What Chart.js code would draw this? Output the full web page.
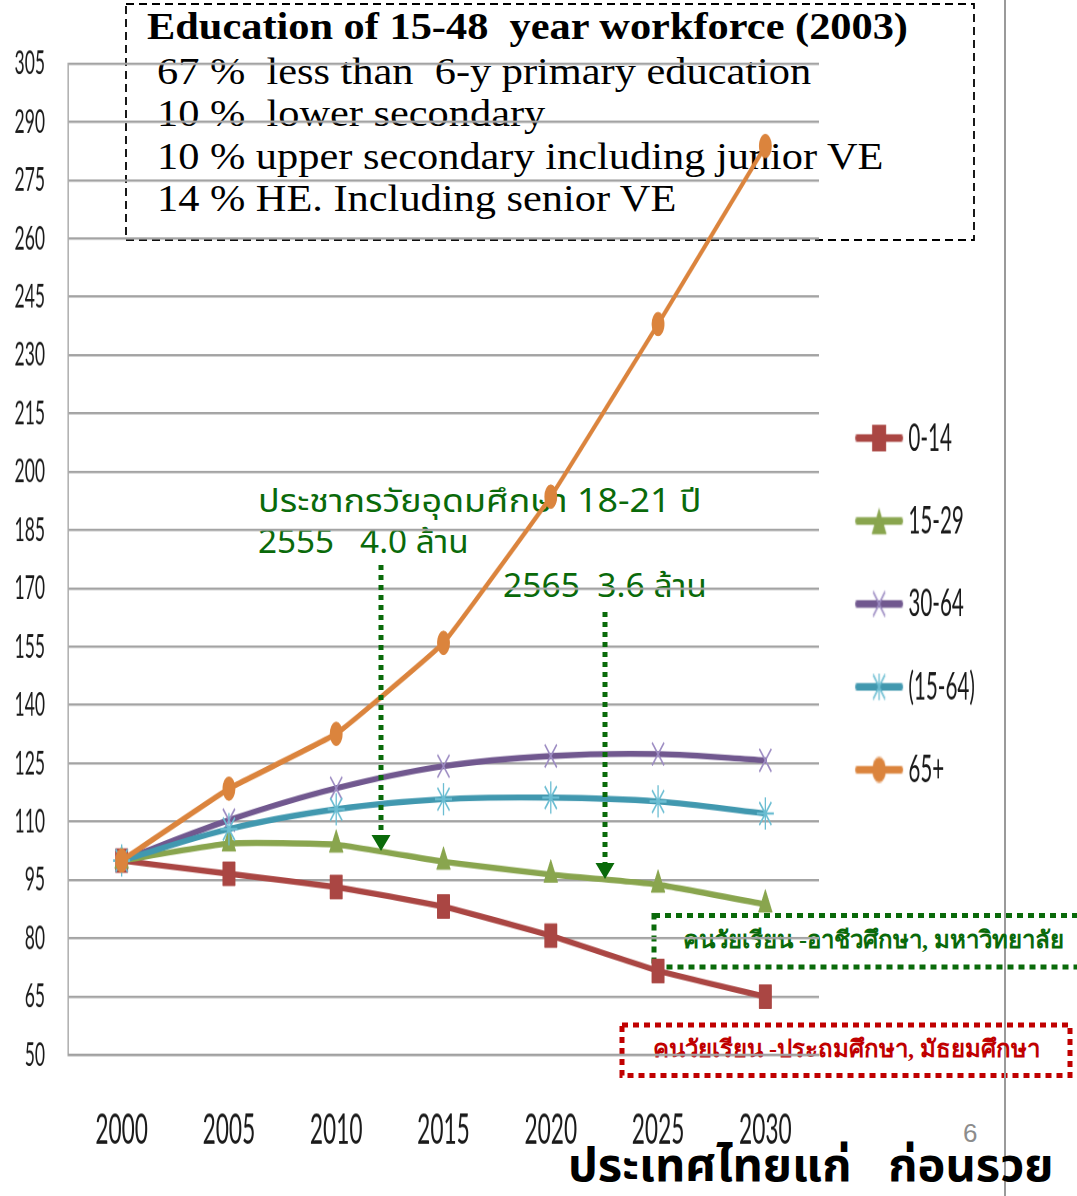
<!DOCTYPE html>
<html>
<head>
<meta charset="utf-8">
<script src="https://cdn.jsdelivr.net/npm/chart.js@4.4.0/dist/chart.umd.min.js"></script>
<style>
html,body{margin:0;padding:0;background:#fff;width:1077px;height:1196px;overflow:hidden;}
#stage{position:relative;width:1077px;height:1196px;}
#chartWrap{position:absolute;left:0;top:0;width:1077px;height:630px;transform:scaleY(1.8984127);transform-origin:0 0;z-index:2;}
.t{position:absolute;white-space:pre;z-index:1;}
.box{font-family:"Liberation Serif","Times New Roman",serif;font-size:38px;line-height:38px;color:#000;transform:scaleX(1.115);transform-origin:0 0;}
.gr{font-family:Tahoma,"Noto Sans Thai",Loma,Garuda,"Liberation Sans",sans-serif;font-size:32px;line-height:32px;color:#0a6a0a;transform-origin:0 0;}
.lbl{font-family:"Liberation Serif",serif;font-weight:bold;font-size:24px;line-height:24px;}
svg{position:absolute;left:0;top:0;}
</style>
</head>
<body>
<div id="stage">
  <svg width="1077" height="1196" style="z-index:1">
    <rect x="126" y="4" width="848" height="236" fill="none" stroke="#000" stroke-width="1.8" stroke-dasharray="8 5"/>
    <rect x="654" y="915.5" width="440" height="51.5" fill="none" stroke="#0a6a0a" stroke-width="5" stroke-dasharray="6 5"/>
    <rect x="622" y="1025" width="448" height="50.5" fill="none" stroke="#c00000" stroke-width="5" stroke-dasharray="6 5"/>
    <line x1="1005" y1="0" x2="1005" y2="1196" stroke="#9a9a9a" stroke-width="2"/>
  </svg>

  <div class="t box" style="left:147px;top:7px;font-weight:bold;">Education of 15-48  year workforce (2003)</div>
  <div class="t box" style="left:157px;top:52px;">67 %  less than  6-y primary education</div>
  <div class="t box" style="left:157px;top:94px;">10 %  lower secondary</div>
  <div class="t box" style="left:157px;top:137px;">10 % upper secondary including junior VE</div>
  <div class="t box" style="left:157px;top:179px;">14 % HE. Including senior VE</div>

  <div class="t gr" style="left:258px;top:486px;transform:scaleX(1.12);">ประชากรวัยอุดมศึกษา 18-21 ปี</div>
  <div class="t gr" style="left:258px;top:527px;transform:scaleX(1.04);">2555   4.0 ล้าน</div>
  <div class="t gr" style="left:503px;top:571px;transform:scaleX(1.05);">2565  3.6 ล้าน</div>

  <div class="t lbl" style="left:683px;top:928px;color:#0a6a0a;">คนวัยเรียน -อาชีวศึกษา, มหาวิทยาลัย</div>
  <div class="t lbl" style="left:653px;top:1037px;color:#c00000;">คนวัยเรียน -ประถมศึกษา, มัธยมศึกษา</div>

  <div class="t" style="left:963px;top:1120px;font-family:'Liberation Sans',sans-serif;font-size:26px;line-height:26px;color:#8c8c8c;">6</div>
  <div class="t" style="left:568px;top:1143px;font-family:Tahoma,'Noto Sans Thai',Loma,Garuda,'Liberation Sans',sans-serif;font-weight:bold;font-size:47px;line-height:47px;color:#000;">ประเทศไทยแก่   ก่อนรวย</div>

  <div id="chartWrap"><canvas id="c" width="1077" height="630"></canvas></div>

  <svg width="1077" height="1196" style="z-index:3">
    <line x1="381" y1="565" x2="381" y2="836" stroke="#0a6a0a" stroke-width="5" stroke-dasharray="5 5"/>
    <polygon points="371.5,835 390.5,835 381,851" fill="#0a6a0a"/>
    <line x1="605" y1="612" x2="605" y2="864" stroke="#0a6a0a" stroke-width="5" stroke-dasharray="5 5"/>
    <polygon points="595.5,863 614.5,863 605,879" fill="#0a6a0a"/>
  </svg>
</div>

<script>
// ---- data ----
const years = ['2000', '2005', '2010', '2015', '2020', '2025', '2030'];
const age0_14   = [100, 96.6, 93.2, 88.2, 80.7, 71.6, 65.0];
const age15_29  = [100, 104.4, 104.1, 99.7, 96.4, 93.8, 88.7];
const age30_64  = [100, 110.4, 118.6, 124.3, 126.9, 127.4, 125.8];
const age15_64  = [100, 108.1, 113.2, 115.8, 116.2, 115.2, 112.1];
const age65plus = [100, 118.5, 132.6, 156.0, 193.6, 238.0, 283.8];
const seriesNames = ['0-14', '15-29', '30-64', '(15-64)', '65+'];
const yMin = 50, yMax = 305, yStep = 15;

// ---- styles ----
const colors = ['#AA4643', '#89A54E', '#71588F', '#4198AF', '#DB843D'];
const markerColors = ['#AA4643', '#89A54E', '#9c8bc2', '#6bbdd2', '#DB843D'];

function legendIcon(i) {
  const c = document.createElement('canvas');
  c.width = 50; c.height = 16;
  const g = c.getContext('2d');
  g.strokeStyle = colors[i]; g.lineWidth = 4; g.lineCap = 'round';
  g.beginPath(); g.moveTo(3, 8); g.lineTo(47, 8); g.stroke();
  g.fillStyle = markerColors[i]; g.strokeStyle = markerColors[i];
  if (i === 0) { g.fillRect(18, 1, 14, 14); }
  else if (i === 1) { g.beginPath(); g.moveTo(25, 1); g.lineTo(32.5, 15); g.lineTo(17.5, 15); g.closePath(); g.fill(); }
  else if (i === 4) { g.beginPath(); g.arc(25, 8, 6.8, 0, Math.PI * 2); g.fill(); }
  else {
    g.lineWidth = 1.3; g.lineCap = 'butt';
    g.beginPath(); g.moveTo(19, 1.5); g.lineTo(31, 14.5); g.moveTo(31, 1.5); g.lineTo(19, 14.5);
    if (i === 3) { g.moveTo(25, 1); g.lineTo(25, 15); }
    g.stroke();
  }
  return c;
}
const legendIcons = [0, 1, 2, 3, 4].map(legendIcon);

const target = { top: 31.87, bottom: 555.7, right: 819 };

const legendPlace = {
  id: 'legendPlace',
  afterLayout(chart) {
    const L = chart.legend;
    if (!L) return;
    const w = L.width, h = L.height;
    L.left = 837; L.right = 837 + w;
    L.top = 197.3; L.bottom = L.top + h;
  }
};

const chart = new Chart(document.getElementById('c'), {
  type: 'line',
  data: {
    labels: years,
    datasets: [
      { label: seriesNames[0], data: age0_14, borderColor: colors[0], backgroundColor: colors[0],
        pointStyle: 'rect', pointRadius: 8.8, pointBackgroundColor: markerColors[0], pointBorderColor: markerColors[0],
        pointBorderWidth: 0.5, borderWidth: 3.2, tension: 0.1, order: 5 },
      { label: seriesNames[1], data: age15_29, borderColor: colors[1], backgroundColor: colors[1],
        pointStyle: 'triangle', pointRadius: 8, pointBackgroundColor: markerColors[1], pointBorderColor: markerColors[1],
        pointBorderWidth: 0.5, borderWidth: 3.2, tension: 0.15, order: 4 },
      { label: seriesNames[2], data: age30_64, borderColor: colors[2], backgroundColor: colors[2],
        pointStyle: 'crossRot', pointRadius: 8.5, pointBackgroundColor: markerColors[2], pointBorderColor: markerColors[2],
        pointBorderWidth: 1.3, borderWidth: 3.2, tension: 0.35, order: 3 },
      { label: seriesNames[3], data: age15_64, borderColor: colors[3], backgroundColor: colors[3],
        pointStyle: 'star', pointRadius: 8.5, pointBackgroundColor: markerColors[3], pointBorderColor: markerColors[3],
        pointBorderWidth: 1.3, borderWidth: 3.2, tension: 0.35, order: 2 },
      { label: seriesNames[4], data: age65plus, borderColor: colors[4], backgroundColor: colors[4],
        pointStyle: 'circle', pointRadius: 6.2, pointBackgroundColor: markerColors[4], pointBorderColor: markerColors[4],
        pointBorderWidth: 0.5, borderWidth: 3.2, tension: 0.08, order: 1 }
    ]
  },
  options: {
    responsive: false,
    animation: false,
    devicePixelRatio: 2,
    events: [],
    layout: { padding: { top: 31.87, right: 113, bottom: 21, left: 0 } },
    elements: { line: { borderCapStyle: 'round', borderJoinStyle: 'round' } },
    plugins: {
      tooltip: { enabled: false },
      legend: {
        position: 'right',
        align: 'start',
        labels: {
          font: { family: 'Lato', size: 20.6 },
          color: '#1a1a1a',
          usePointStyle: true,
          pointStyleWidth: 38,
          boxHeight: 16,
          padding: 23.1,
          sort: (a, b) => a.datasetIndex - b.datasetIndex,
          generateLabels(ch) {
            const items = Chart.defaults.plugins.legend.labels.generateLabels(ch);
            items.forEach(it => { it.pointStyle = legendIcons[it.datasetIndex]; });
            return items;
          }
        }
      }
    },
    scales: {
      x: {
        type: 'category',
        offset: true,
        grid: { display: false, drawTicks: false },
        border: { color: '#a0a0a0', width: 1.3 },
        ticks: { font: { family: 'Lato', size: 22.7 }, color: '#1a1a1a', padding: 26, maxRotation: 0, autoSkip: false }
      },
      y: {
        min: yMin, max: yMax,
        grid: { color: '#a3a3a3', lineWidth: 1.3, drawTicks: false },
        border: { color: '#a0a0a0', width: 1.3 },
        ticks: { stepSize: yStep, font: { family: 'Lato', size: 17.5 }, color: '#1a1a1a', padding: 23 },
        afterFit(scale) { scale.width = 68; }
      }
    }
  },
  plugins: [legendPlace]
});

for (let k = 0; k < 3; k++) {
  const a = chart.chartArea;
  const p = chart.options.layout.padding;
  const dr = a.right - target.right, db = a.bottom - target.bottom, dt = a.top - target.top;
  if (Math.abs(dr) < 0.3 && Math.abs(db) < 0.3 && Math.abs(dt) < 0.3) break;
  p.right += dr; p.bottom += db; p.top -= dt;
  chart.update();
}
</script>
</body>
</html>
